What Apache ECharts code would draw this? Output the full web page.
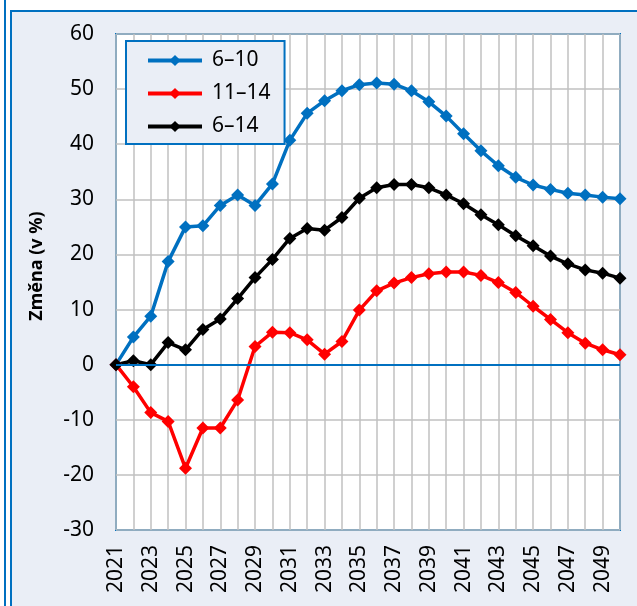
<!DOCTYPE html>
<html>
<head>
<meta charset="utf-8">
<script src="https://cdn.jsdelivr.net/npm/echarts@6/dist/echarts.min.js"></script>
<style>
html,body{margin:0;padding:0;background:#fff;}
#chart{width:637px;height:606px;}
</style>
</head>
<body>
<div id="chart"></div>
<script>
const years = ['2021','2022','2023','2024','2025','2026','2027','2028','2029','2030',
  '2031','2032','2033','2034','2035','2036','2037','2038','2039','2040',
  '2041','2042','2043','2044','2045','2046','2047','2048','2049','2050'];
const age6to10 = [0, 5.0, 8.8, 18.7, 25.0, 25.2, 28.9, 30.8, 28.9, 32.8,
  40.7, 45.6, 47.9, 49.7, 50.8, 51.1, 50.9, 49.7, 47.7, 45.1,
  41.9, 38.8, 36.1, 34.0, 32.6, 31.8, 31.1, 30.8, 30.4, 30.1];
const age11to14 = [0, -4.0, -8.7, -10.3, -18.8, -11.5, -11.5, -6.4, 3.3, 5.9,
  5.8, 4.5, 1.9, 4.2, 9.9, 13.4, 14.8, 15.8, 16.5, 16.8,
  16.8, 16.2, 14.9, 13.1, 10.6, 8.2, 5.8, 3.9, 2.7, 1.8];
const age6to14 = [0, 0.7, 0, 4.0, 2.7, 6.4, 8.3, 12.0, 15.8, 19.1,
  22.9, 24.7, 24.4, 26.7, 30.2, 32.1, 32.7, 32.7, 32.1, 30.8,
  29.2, 27.2, 25.4, 23.4, 21.6, 19.7, 18.3, 17.2, 16.6, 15.7];
const seriesNames = ['6–10', '11–14', '6–14'];
const seriesColors = ['#0070C0', '#FF0000', '#000000'];
const yTitle = 'Změna (v %)';

const FONT = 'Noto Sans';
const frameBlue = '#0070C0';
const panelBg = '#EAEEF6';

function mkSeries(name, data, color, extra) {
  return Object.assign({
    name: name, type: 'line', data: data,
    symbol: 'diamond', symbolSize: 13, showAllSymbol: true,
    lineStyle: { color: color, width: 3.5 },
    itemStyle: { color: color },
    emphasis: { disabled: true },
    animation: false
  }, extra || {});
}

const chart = echarts.init(document.getElementById('chart'), null, { renderer: 'canvas' });
chart.setOption({
  backgroundColor: '#ffffff',
  animation: false,
  graphic: [
    { type: 'rect', z: -10, silent: true,
      shape: { x: 11, y: 11, width: 640, height: 610 },
      style: { fill: panelBg, stroke: frameBlue, lineWidth: 2 } },
    { type: 'line', z: -10, silent: true,
      shape: { x1: 5, y1: 0, x2: 5, y2: 606 },
      style: { stroke: frameBlue, lineWidth: 2 } },
    { type: 'text', silent: true, z: 10,
      x: 37, y: 266, rotation: Math.PI / 2,
      style: { text: yTitle, font: 'bold 18px "' + FONT + '"', fill: '#000',
        align: 'center', verticalAlign: 'middle' } }
  ],
  grid: {
    left: 116, right: 17, top: 34, bottom: 76,
    show: true, backgroundColor: '#ffffff',
    borderColor: frameBlue, borderWidth: 2, z: 0
  },
  legend: {
    data: seriesNames,
    orient: 'vertical',
    left: 126, top: 41,
    backgroundColor: panelBg,
    borderColor: frameBlue, borderWidth: 2, borderRadius: 0,
    padding: [9, 14, 7, 20],
    itemWidth: 54, itemHeight: 14, itemGap: 12,
    lineStyle: { width: 4 },
    textStyle: { fontFamily: FONT, fontSize: 21, color: '#000', padding: [0, 0, 0, 5] },
    selectedMode: false
  },
  xAxis: {
    type: 'category', data: years, boundaryGap: false,
    axisLine: { show: false, onZero: false },
    axisTick: { show: false },
    axisLabel: { rotate: 90, interval: 1, margin: 15, fontFamily: FONT, fontSize: 21, color: '#000' },
    splitLine: { show: true, interval: 0, lineStyle: { color: '#C0C0C0', width: 1.5 } }
  },
  yAxis: {
    type: 'value', min: -30, max: 60, interval: 10,
    axisLine: { show: false },
    axisTick: { show: false },
    axisLabel: { margin: 22, fontFamily: FONT, fontSize: 21, color: '#000' },
    splitLine: { show: true, lineStyle: { color: '#C0C0C0', width: 1.5 } }
  },
  series: [
    mkSeries(seriesNames[0], age6to10, seriesColors[0], {
      markLine: {
        silent: true, symbol: 'none', animation: false,
        label: { show: false },
        lineStyle: { color: frameBlue, width: 2, type: 'solid' },
        data: [{ yAxis: 0 }]
      }
    }),
    mkSeries(seriesNames[1], age11to14, seriesColors[1]),
    mkSeries(seriesNames[2], age6to14, seriesColors[2])
  ]
});
</script>
</body>
</html>
